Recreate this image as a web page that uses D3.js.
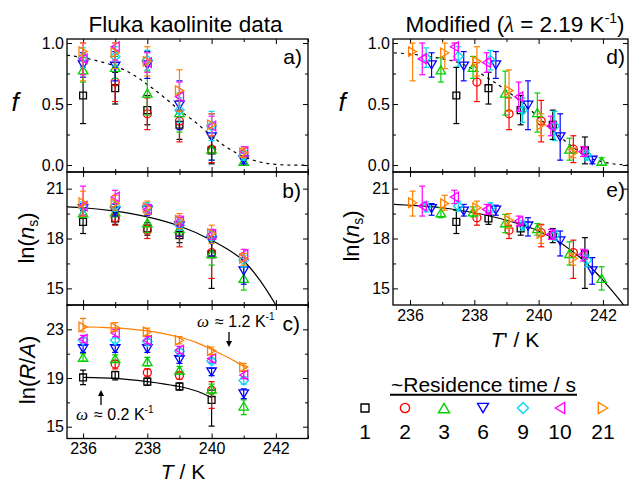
<!DOCTYPE html>
<html><head><meta charset="utf-8">
<script src="https://cdn.jsdelivr.net/npm/d3@7"></script>
<style>
body{margin:0;background:#fff;}
svg text{font-family:"Liberation Sans",Arial,sans-serif;fill:#000;}
</style></head><body>
<svg id="chart" width="635" height="483"></svg>
<script>
// ---------------- DATA ----------------
const temps = [236, 237, 238, 239, 240, 241];
const residenceTimes = ["1", "2", "3", "6", "9", "10", "21"];
const seriesColors = ["#000000", "#ff0000", "#00d000", "#0000ff", "#00d8f0", "#ff00ff", "#ff8000"];
const seriesSymbols = ["square", "circle", "triUp", "triDown", "diamond", "triLeft", "triRight"];
// temperature shift applied in the "Modified" panels (K), read per series
const tShift = [1.44, 1.08, 0.96, 0.67, 0.50, 0.38, 0.08];

const fVal = [
  [0.57, 0.63, 0.45, 0.33, 0.12, null],
  [null, 0.68, 0.42, 0.36, 0.13, null],
  [0.78, 0.80, 0.59, 0.43, 0.13, 0.03],
  [0.82, 0.81, 0.82, 0.49, 0.23, 0.04],
  [0.88, 0.89, 0.86, 0.45, 0.32, 0.08],
  [0.87, 0.97, 0.84, 0.56, 0.32, 0.11],
  [0.93, 0.92, 0.85, 0.61, 0.33, 0.10]
];
const fErr = [
  [0.23, 0.13, 0.12, 0.12, 0.11, null],
  [null, 0.16, 0.13, 0.17, 0.11, null],
  [0.10, 0.09, 0.18, 0.16, 0.09, 0.03],
  [0.10, 0.12, 0.11, 0.20, 0.19, 0.03],
  [0.08, 0.08, 0.08, 0.10, 0.12, 0.04],
  [0.13, 0.11, 0.08, 0.12, 0.08, 0.04],
  [0.24, 0.13, 0.12, 0.17, 0.09, 0.04]
];
const nsVal = [
  [19.0, 19.2, 18.6, 18.2, 17.05, null],
  [null, 19.25, 18.5, 18.35, 17.15, null],
  [19.55, 19.6, 18.95, 18.6, 17.1, 15.6],
  [19.8, 19.65, 19.7, 18.75, 17.85, 16.05],
  [19.9, 19.95, 19.85, 18.8, 18.2, 16.7],
  [19.95, 20.5, 19.75, 19.05, 18.25, 17.05],
  [20.15, 20.1, 19.85, 19.1, 18.3, 16.8]
];
const nsLo = [
  [0.7, 0.35, 0.4, 0.45, 2.05, null],
  [null, 0.45, 0.5, 0.85, 1.55, null],
  [0.3, 0.3, 0.6, 0.4, 0.7, 0.7],
  [0.4, 0.3, 0.3, 0.6, 0.9, 0.8],
  [0.3, 0.3, 0.3, 0.3, 0.3, 0.4],
  [0.6, 0.4, 0.3, 0.3, 0.3, 0.4],
  [0.8, 0.4, 0.4, 0.5, 0.6, 0.4]
];
const nsHi = [
  [0.7, 0.35, 0.35, 0.4, 1.0, null],
  [null, 0.25, 0.3, 0.5, 0.75, null],
  [0.3, 0.3, 0.5, 0.3, 0.7, 0.7],
  [0.3, 0.4, 0.3, 0.5, 0.6, 0.8],
  [0.3, 0.3, 0.3, 0.3, 0.3, 0.3],
  [1.2, 0.4, 0.3, 0.3, 0.3, 0.3],
  [0.7, 0.5, 0.4, 0.4, 0.5, 0.3]
];
const raVal = [
  [19.05, 19.25, 18.7, 18.3, 17.2, null],
  [null, 20.15, 19.45, 19.2, 18.0, null],
  [20.7, 20.6, 20.35, 19.65, 18.1, 16.7],
  [21.4, 21.4, 21.4, 20.5, 19.5, 17.7],
  [22.1, 22.1, 22.0, 21.2, 20.4, 18.8],
  [22.2, 22.7, 22.1, 21.3, 20.6, 19.25],
  [23.2, 23.15, 22.8, 22.1, 21.25, 19.9]
];
const raLo = [
  [0.6, 0.4, 0.3, 0.3, 2.15, null],
  [null, 0.4, 0.3, 0.3, 1.5, null],
  [0.3, 0.3, 0.35, 0.3, 0.4, 0.7],
  [0.3, 0.3, 0.3, 0.3, 0.3, 0.4],
  [0.2, 0.2, 0.2, 0.2, 0.2, 0.3],
  [0.3, 0.3, 0.3, 0.3, 0.3, 0.3],
  [0.4, 0.3, 0.3, 0.3, 0.3, 0.3]
];
const raHi = [
  [0.6, 0.3, 0.3, 0.3, 0.8, null],
  [null, 0.3, 0.3, 0.3, 0.7, null],
  [0.3, 0.3, 0.35, 0.3, 0.4, 0.5],
  [0.3, 0.3, 0.3, 0.3, 0.3, 0.4],
  [0.2, 0.2, 0.2, 0.2, 0.2, 0.3],
  [0.3, 0.3, 0.3, 0.3, 0.3, 0.3],
  [0.7, 0.4, 0.3, 0.3, 0.3, 0.3]
];
// fitted curves as [T, value]
const fitF = [[235.5,0.90],[236,0.88],[236.5,0.85],[237,0.81],[237.5,0.75],[238,0.66],[238.5,0.56],[239,0.45],[239.5,0.35],[240,0.24],[240.5,0.14],[241,0.07],[241.5,0.025],[242,0.005],[242.5,0],[243,0]];
const fitFmod = [[235.5,0.92],[236,0.91],[236.5,0.895],[237,0.87],[237.5,0.84],[238,0.78],[238.5,0.70],[239,0.61],[239.5,0.51],[240,0.39],[240.5,0.27],[241,0.16],[241.5,0.07],[242,0.025],[242.5,0.005],[242.8,0]];
const fitNs = [[235.5,19.9],[236,19.85],[237,19.65],[238,19.3],[239,18.75],[240,17.9],[240.5,17.35],[241,16.65],[241.5,15.5],[242,14.0],[242.3,13.0]];
const fitNsMod = [[235.5,20.05],[236,20.0],[237,19.85],[238,19.55],[239,19.1],[240,18.45],[240.5,17.95],[241,17.3],[241.5,16.5],[242,15.5],[242.5,14.35],[242.8,13.6]];
const fitRA21 = [[236,23.2],[236.5,23.17],[237,23.12],[237.5,23.02],[238,22.87],[238.5,22.65],[239,22.35],[239.5,21.95],[240,21.35],[240.5,20.7],[241,19.95],[241.1,19.8]];
const fitRA1 = [[236,19.05],[237,18.97],[238,18.7],[238.5,18.52],[239,18.3],[239.5,17.95],[240,17.4]];

const xTicksMajor = [236, 238, 240, 242];
const xTicksMinor = [237, 239, 241, 243];

// ---------------- LAYOUT ----------------
const svg = d3.select("#chart");
const colL = [67, 308], colR = [393, 628];
const rowA = [39, 172], rowB = [172, 305], rowC = [305, 438.5];

const xL = d3.scaleLinear().domain([235.5, 243]).range(colL);
const xR = d3.scaleLinear().domain([235.47, 242.78]).range(colR);
const yA = d3.scaleLinear().domain([-0.057, 1.033]).range([rowA[1], rowA[0]]);
const yB = d3.scaleLinear().domain([14, 22]).range([rowB[1], rowB[0]]);
const yC = d3.scaleLinear().domain([14.03, 25]).range([rowC[1], rowC[0]]);
const yD = yA.copy();
const yE = yB.copy();

function symPath(type, s) {
  const h = s / 2;
  switch (type) {
    case "square": { const q = s * 0.36; return `M${-q},${-q}H${q}V${q}H${-q}Z`; }
    case "circle": { const r = s * 0.42; return `M${r},0A${r},${r} 0 1,1 ${-r},0A${r},${r} 0 1,1 ${r},0Z`; }
    case "triUp": return `M0,${-h*0.85}L${h},${h*0.85}L${-h},${h*0.85}Z`;
    case "triDown": return `M0,${h*0.85}L${h},${-h*0.85}L${-h},${-h*0.85}Z`;
    case "triLeft": return `M${-h*0.85},0L${h*0.85},${-h}L${h*0.85},${h}Z`;
    case "triRight": return `M${h*0.85},0L${-h*0.85},${-h}L${-h*0.85},${h}Z`;
    case "diamond": return `M0,${-h}L${h},0L0,${h}L${-h},0Z`;
  }
}

let clipId = 0;
function panel(x, y, opt) {
  const g = svg.append("g");
  const [x0, x1] = x.range();
  const [y1, y0] = y.range();
  const id = "clip" + (clipId++);
  svg.append("clipPath").attr("id", id).append("rect")
    .attr("x", x0).attr("y", y0).attr("width", x1 - x0).attr("height", y1 - y0);
  // axes with inward ticks
  const mk = (axisFn, scale, vals, size, fmt) => axisFn(scale).tickValues(vals).tickSizeInner(-size).tickSizeOuter(0).tickPadding(opt.pad || 3).tickFormat(fmt);
  const none = () => "";
  const addAxis = (ax, tx, ty) => {
    const a = g.append("g").attr("transform", `translate(${tx},${ty})`).call(ax);
    a.select(".domain").remove();
    a.selectAll("line").attr("stroke", "#000").attr("stroke-width", 1);
    a.selectAll("text").attr("font-size", 16).attr("font-family", '"Liberation Sans",Arial,sans-serif').attr("fill", "#000");
    return a;
  };
  addAxis(mk(d3.axisLeft, y, opt.yMajor, 5, opt.yFmt), x0, 0);
  addAxis(mk(d3.axisLeft, y, opt.yMinor, 3, none), x0, 0);
  addAxis(mk(d3.axisRight, y, opt.yMajor, 5, none), x1, 0);
  addAxis(mk(d3.axisRight, y, opt.yMinor, 3, none), x1, 0);
  addAxis(mk(d3.axisTop, x, xTicksMajor, 5, none), 0, y0);
  addAxis(mk(d3.axisTop, x, xTicksMinor.filter(v => v <= x.domain()[1]), 3, none), 0, y0);
  const bx = addAxis(d3.axisBottom(x).tickValues(xTicksMajor).tickSizeInner(-5).tickSizeOuter(0).tickPadding(4.5).tickFormat(opt.xLabels ? d3.format("d") : none), 0, y1);
  addAxis(mk(d3.axisBottom, x, xTicksMinor.filter(v => v <= x.domain()[1]), 3, none), 0, y1);
  // frame
  g.append("rect").attr("x", x0).attr("y", y0).attr("width", x1 - x0).attr("height", y1 - y0)
    .attr("fill", "none").attr("stroke", "#000").attr("stroke-width", 1.3);
  const plot = g.append("g").attr("clip-path", `url(#${id})`);
  return plot;
}

function drawCurve(plot, x, y, pts, color, dashed) {
  plot.append("path").datum(pts)
    .attr("d", d3.line().x(d => x(d[0])).y(d => y(d[1])).curve(d3.curveMonotoneX))
    .attr("fill", "none").attr("stroke", color).attr("stroke-width", 1.2)
    .attr("stroke-dasharray", dashed ? "3,4" : null);
}

function drawSeries(plot, x, y, vals, lo, hi, modified, clipTop) {
  vals.forEach((row, si) => {
    const col = seriesColors[si];
    const gs = plot.append("g");
    row.forEach((v, ti) => {
      if (v == null) return;
      const T = temps[ti] + (modified ? tShift[si] : 0);
      let top = v + hi[si][ti], bot = v - lo[si][ti];
      if (clipTop != null) top = Math.min(top, clipTop);
      if (clipTop != null) bot = Math.max(bot, 0);
      const cx = x(T);
      gs.append("line").attr("x1", cx).attr("x2", cx).attr("y1", y(top)).attr("y2", y(bot))
        .attr("stroke", col).attr("stroke-width", 1.2);
      [top, bot].forEach(e => gs.append("line").attr("x1", cx - 3).attr("x2", cx + 3).attr("y1", y(e)).attr("y2", y(e))
        .attr("stroke", col).attr("stroke-width", 1.2));
      gs.append("path").attr("d", symPath(seriesSymbols[si], 9.5))
        .attr("transform", `translate(${cx},${y(v)})`)
        .attr("fill", "none").attr("stroke", col).attr("stroke-width", 1.3);
    });
  });
}

const fmt1 = d3.format(".1f"), fmt0 = d3.format("d");
// Panel a
const pA = panel(xL, yA, {yMajor: [0, 0.5, 1], yMinor: [0.25, 0.75], yFmt: fmt1});
drawCurve(pA, xL, yA, fitF, "#000", true);
drawSeries(pA, xL, yA, fVal, fErr, fErr, false, 1.0);
// Panel b
const pB = panel(xL, yB, {yMajor: [15, 18, 21], yMinor: [16.5, 19.5], yFmt: fmt0});
drawCurve(pB, xL, yB, fitNs, "#000", false);
drawSeries(pB, xL, yB, nsVal, nsLo, nsHi, false, null);
// Panel c
const pC = panel(xL, yC, {yMajor: [15, 19, 23], yMinor: [17, 21, 25], yFmt: fmt0, xLabels: true});
drawCurve(pC, xL, yC, fitRA21, "#ff8000", false);
drawCurve(pC, xL, yC, fitRA1, "#000", false);
drawSeries(pC, xL, yC, raVal, raLo, raHi, false, null);
// Panel d
const pD = panel(xR, yD, {yMajor: [0, 0.5, 1], yMinor: [0.25, 0.75], yFmt: fmt1});
drawCurve(pD, xR, yD, fitFmod, "#000", true);
drawSeries(pD, xR, yD, fVal, fErr, fErr, true, 1.0);
// Panel e
const pE = panel(xR, yE, {yMajor: [15, 18, 21], yMinor: [16.5, 19.5], yFmt: fmt0, xLabels: true});
drawCurve(pE, xR, yE, fitNsMod, "#000", false);
drawSeries(pE, xR, yE, nsVal, nsLo, nsHi, true, null);

// ---------------- TEXT ----------------
const T = (x, y, s, size, anchor) => svg.append("text").attr("x", x).attr("y", y).attr("font-size", size).attr("text-anchor", anchor || "middle").text(s);
T(185.5, 32, "Fluka kaolinite data", 22.5);
const t2 = svg.append("text").attr("x", 515).attr("y", 32).attr("font-size", 22.5).attr("text-anchor", "middle");
t2.append("tspan").text("Modified (");
t2.append("tspan").attr("font-style", "italic").attr("font-family", '"Liberation Serif",serif').text("λ");
t2.append("tspan").text(" = 2.19 K");
t2.append("tspan").attr("font-size", 14).attr("dy", -9).text("-1");
t2.append("tspan").attr("dy", 9).text(")");

[["a)", 302, 64], ["b)", 301, 198], ["c)", 300, 331], ["d)", 625, 64], ["e)", 625, 197]].forEach(d => T(d[1], d[2], d[0], 21, "end"));

// y labels
function fLabel(x, y) {
  svg.append("text").attr("x", x).attr("y", y).attr("font-size", 26).attr("text-anchor", "middle")
    .attr("font-family", '"Liberation Serif",serif').attr("font-style", "italic").text("f");
}
fLabel(15, 111); fLabel(342, 111);
function rotLabel(x, y, parts) {
  const t = svg.append("text").attr("transform", `translate(${x},${y}) rotate(-90)`).attr("font-size", 22).attr("text-anchor", "middle");
  parts.forEach(p => {
    const s = t.append("tspan").text(p.t);
    if (p.i) s.attr("font-style", "italic");
    if (p.sub) s.attr("font-size", 14).attr("dy", 4);
    if (p.up) s.attr("dy", -4);
  });
}
rotLabel(34, 238, [{t: "ln("}, {t: "n", i: 1}, {t: "s", sub: 1}, {t: ")", up: 1}]);
rotLabel(35, 370, [{t: "ln("}, {t: "R", i: 1}, {t: "/"}, {t: "A", i: 1}, {t: ")"}]);
rotLabel(359, 236, [{t: "ln("}, {t: "n", i: 1}, {t: "s", sub: 1}, {t: ")", up: 1}]);

// x labels
function xLabel(x, y, prime) {
  const t = svg.append("text").attr("x", x).attr("y", y).attr("font-size", 21).attr("text-anchor", "middle");
  t.append("tspan").attr("font-style", "italic").text("T");
  t.append("tspan").text((prime ? "'" : "") + " / K");
}
xLabel(183, 479, false);
xLabel(515, 347, true);

// omega annotations
function omega(x, y, val) {
  const t = svg.append("text").attr("x", x).attr("y", y).attr("font-size", 16).attr("text-anchor", "start");
  t.append("tspan").attr("font-style", "italic").attr("font-family", '"Liberation Serif",serif').attr("font-size", 17).text("ω");
  t.append("tspan").attr("dx", 6).text("≈ " + val + " K");
  t.append("tspan").attr("font-size", 10).attr("dy", -7).text("-1");
}
omega(197, 327, "1.2");
omega(76, 420, "0.2");
function arrow(x, yFrom, yTo) {
  const dir = yTo > yFrom ? 1 : -1;
  svg.append("line").attr("x1", x).attr("x2", x).attr("y1", yFrom).attr("y2", yTo - dir * 5)
    .attr("stroke", "#000").attr("stroke-width", 1.3);
  svg.append("path").attr("d", `M${x},${yTo}L${x - 3},${yTo - dir * 6}L${x + 3},${yTo - dir * 6}Z`).attr("fill", "#000");
}
arrow(229, 332, 347);
arrow(101, 405, 390);

// legend
T(483.5, 392, "~Residence time / s", 21);
svg.append("line").attr("x1", 390).attr("x2", 577).attr("y1", 394.8).attr("y2", 394.8).attr("stroke", "#000").attr("stroke-width", 2);
const legX = [365, 405, 444, 483, 523, 560, 603];
residenceTimes.forEach((r, i) => {
  svg.append("path").attr("d", symPath(seriesSymbols[i], 11))
    .attr("transform", `translate(${legX[i]},408)`)
    .attr("fill", "none").attr("stroke", seriesColors[i]).attr("stroke-width", 1.4);
  T(legX[i], 439, r, 21);
});
</script>
</body></html>
